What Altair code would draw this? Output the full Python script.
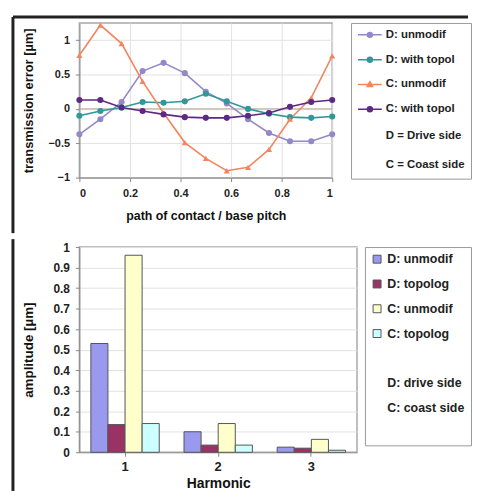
import altair as alt
import pandas as pd

# ---------------- top chart data ----------------
path_pos = [0.0, 0.083, 0.167, 0.25, 0.333, 0.417, 0.5, 0.583, 0.667, 0.75, 0.833, 0.917, 1.0]
d_unmodif = [-0.37, -0.15, 0.10, 0.55, 0.67, 0.52, 0.25, 0.08, -0.15, -0.35, -0.47, -0.47, -0.37]
d_topol = [-0.10, -0.03, 0.02, 0.10, 0.09, 0.11, 0.22, 0.11, 0.00, -0.07, -0.12, -0.13, -0.11]
c_unmodif = [0.78, 1.22, 0.95, 0.40, -0.06, -0.49, -0.72, -0.90, -0.85, -0.59, -0.15, 0.16, 0.77]
c_topol = [0.13, 0.13, 0.02, -0.03, -0.08, -0.12, -0.13, -0.13, -0.10, -0.06, 0.03, 0.10, 0.13]

line_series = ["D: unmodif", "D: with topol", "C: unmodif", "C: with topol"]
line_notes = ["D = Drive side", "C = Coast side"]
line_colors = ["#9488c8", "#2f9898", "#f2855f", "#5c2a84"]
line_shapes = ["circle", "circle", "triangle-up", "circle"]

# ---------------- bottom chart data ----------------
harmonics = ["1", "2", "3"]
bar_series = ["D: unmodif", "D: topolog", "C: unmodif", "C: topolog"]
bar_notes = ["D: drive side", "C: coast side"]
bar_colors = ["#9999ee", "#993366", "#ffffcc", "#ccffff"]
amp_d_unmodif = [0.53, 0.10, 0.025]
amp_d_topolog = [0.135, 0.035, 0.02]
amp_c_unmodif = [0.96, 0.14, 0.063]
amp_c_topolog = [0.14, 0.035, 0.01]

FONT = "Liberation Sans"
FRAME = "#222222"

rows = []
for name, vals in zip(line_series, [d_unmodif, d_topol, c_unmodif, c_topol]):
    for xv, yv in zip(path_pos, vals):
        rows.append({"pos": xv, "err": yv, "series": name})
top_df = pd.DataFrame(rows)

brows = []
for name, vals in zip(bar_series, [amp_d_unmodif, amp_d_topolog, amp_c_unmodif, amp_c_topolog]):
    for h, v in zip(harmonics, vals):
        brows.append({"harmonic": h, "amp": v, "bseries": name})
bot_df = pd.DataFrame(brows)

frame_df = pd.DataFrame({"k": [0]})

# ---------------- top chart ----------------
x_top = alt.X(
    "pos:Q",
    scale=alt.Scale(domain=[0, 1], nice=False),
    axis=alt.Axis(
        title="path of contact / base pitch", values=[0, 0.2, 0.4, 0.6, 0.8, 1.0],
        format="~g", labelFontSize=11, titleFontSize=12.5, titlePadding=11,
        labelPadding=6, tickSize=4, grid=True, labelOverlap=False,
    ),
)
y_top = alt.Y(
    "err:Q",
    scale=alt.Scale(domain=[-1, 1.25], nice=False),
    axis=alt.Axis(
        title="transmission error [µm]", values=[-1, -0.5, 0, 0.5, 1], format="~g",
        labelFontSize=11, titleFontSize=13, titlePadding=9, tickSize=4,
        labelPadding=6, minExtent=35, maxExtent=35, grid=True, labelOverlap=False,
    ),
)
top_color_plain = alt.Color(
    "series:N", scale=alt.Scale(domain=line_series, range=line_colors), legend=None
)
top_shape_plain = alt.Shape(
    "series:N", scale=alt.Scale(domain=line_series, range=line_shapes), legend=None
)

# legend-only layer: symbols drawn as a short line with a marker
top_domain = line_series + line_notes
sym_circle = "M-2.4,0H2.4M0.5,0A0.5,0.5,0,1,1,-0.5,0A0.5,0.5,0,1,1,0.5,0Z"
sym_tri = "M-2.4,0H2.4M0,-0.55L0.55,0.42L-0.55,0.42Z"
top_legend = alt.Legend(
    title=None, orient="right", offset=15, padding=6, rowPadding=13,
    strokeColor="#999999", fillColor="#ffffff", labelFont=FONT, labelFontSize=11.5,
    labelFontWeight="bold", labelColor="#222222", symbolSize=100, symbolOffset=7,
    labelOffset=10, symbolStrokeWidth=1.5, symbolOpacity=1,
)
leg_df = pd.DataFrame({"pos": [0.5], "err": [0.0], "label": ["D = Drive side"]})
legend_layer = alt.Chart(leg_df).mark_point(filled=True, size=100).encode(
    x=x_top,
    y=y_top,
    color=alt.Color("label:N", scale=alt.Scale(domain=top_domain, range=line_colors + ["transparent"] * 2), legend=top_legend),
    stroke=alt.Stroke("label:N", scale=alt.Scale(domain=top_domain, range=line_colors + ["transparent"] * 2), legend=top_legend),
    shape=alt.Shape("label:N", scale=alt.Scale(domain=top_domain, range=[sym_circle, sym_circle, sym_tri, sym_circle, "circle", "circle"]), legend=top_legend),
)

zero = alt.Chart(pd.DataFrame({"err": [0]})).mark_rule(color="#b0a08c", strokeWidth=1).encode(
    y=y_top
)
lines = alt.Chart(top_df).mark_line(strokeWidth=1.6).encode(
    x=x_top, y=y_top, color=top_color_plain
)
points = alt.Chart(top_df).mark_point(filled=True, size=38, opacity=1).encode(
    x=x_top, y=y_top, color=top_color_plain, shape=top_shape_plain
)
# decorative outer frame (left and top edges of the figure border)
frame_left_top = alt.Chart(frame_df).mark_rule(color=FRAME, strokeWidth=3).encode(
    x=alt.value(-67), y=alt.value(-6), y2=alt.value(212)
)
frame_top = alt.Chart(frame_df).mark_rule(color=FRAME, strokeWidth=3).encode(
    x=alt.value(-67), x2=alt.value(392), y=alt.value(-6)
)
top = (
    alt.layer(zero, lines, points, legend_layer, frame_left_top, frame_top)
    .resolve_scale(color="independent", shape="independent", stroke="independent")
    .properties(width=255, height=156)
)

# ---------------- bottom chart ----------------
bot_domain = bar_series + [" "] + bar_notes + ["  "]
bot_legend = alt.Legend(
    title=None, orient="right", offset=8, padding=6, rowPadding=12,
    strokeColor="#999999", fillColor="#ffffff", labelFont=FONT, labelFontSize=12.5,
    labelFontWeight="bold", labelColor="#222222", symbolType="square", symbolSize=64,
    symbolOffset=0, labelOffset=4, symbolStrokeWidth=1,
)
bot_color = alt.Color(
    "bseries:N",
    scale=alt.Scale(domain=bot_domain, range=bar_colors + ["transparent"] * 4),
    legend=bot_legend,
)
bot_stroke = alt.Stroke(
    "bseries:N",
    scale=alt.Scale(domain=bot_domain, range=["#555555"] * 4 + ["transparent"] * 4),
    legend=bot_legend,
)
bars = alt.Chart(bot_df).mark_bar(strokeWidth=1, opacity=1).encode(
    x=alt.X(
        "harmonic:N",
        scale=alt.Scale(domain=harmonics, paddingInner=0.266, paddingOuter=0.123),
        axis=alt.Axis(title="Harmonic", labelAngle=0, labelFontSize=13, titleFontSize=14,
                      tickSize=4, labelPadding=4, titlePadding=4, grid=False),
    ),
    xOffset=alt.XOffset("bseries:N", scale=alt.Scale(domain=bar_series, paddingInner=0, paddingOuter=0)),
    y=alt.Y(
        "amp:Q",
        scale=alt.Scale(domain=[0, 1], nice=False),
        axis=alt.Axis(title="amplitude [µm]", values=[0, 0.1, 0.2, 0.3, 0.4, 0.5, 0.6, 0.7, 0.8, 0.9, 1],
                      format="~g", labelFontSize=12, titleFontSize=13.5, titlePadding=9,
                      tickSize=4, labelPadding=6, minExtent=35, maxExtent=35, grid=True,
                      labelOverlap=False),
    ),
    color=bot_color,
    stroke=bot_stroke,
)
frame_left_bot = alt.Chart(frame_df).mark_rule(color=FRAME, strokeWidth=3).encode(
    x=alt.value(-67), y=alt.value(-8), y2=alt.value(246)
)
bottom = alt.layer(bars, frame_left_bot).properties(width=280, height=207)

chart = (
    alt.vconcat(top, bottom, spacing=0)
    .resolve_scale(color="independent", shape="independent", stroke="independent")
    .properties(padding={"left": 2, "top": 4, "right": 0, "bottom": 0})
    .configure_view(stroke="#a8a8a8", strokeWidth=1.5)
    .configure_axis(
        labelFont=FONT, titleFont=FONT, labelFontWeight="bold", titleFontWeight="bold",
        labelColor="#222222", titleColor="#111111", domainColor="#888888",
        tickColor="#888888", gridColor="#e2e2e2",
    )
)

chart.save("out.html", embed_options={"renderer": "svg", "actions": False})
